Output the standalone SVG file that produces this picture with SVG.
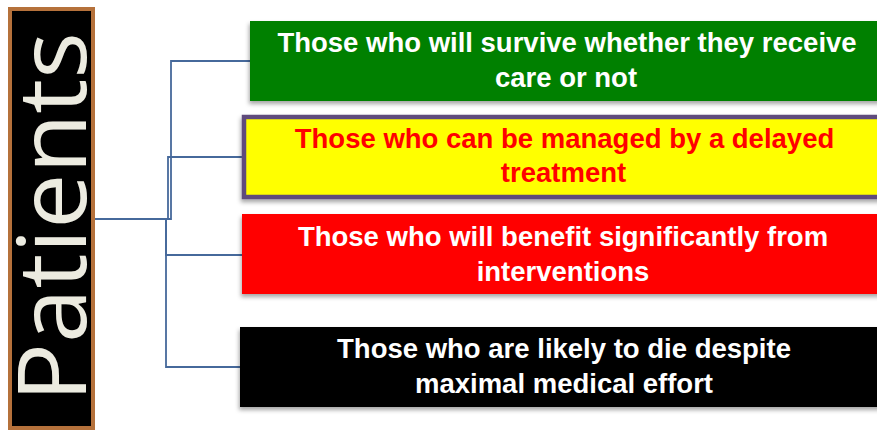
<svg xmlns="http://www.w3.org/2000/svg" width="877" height="430" viewBox="0 0 877 430">
  <defs>
    <filter id="shadow" x="-5%" y="-20%" width="110%" height="150%">
      <feDropShadow dx="-1" dy="3" stdDeviation="2" flood-color="#000" flood-opacity="0.35"/>
    </filter>
  </defs>
  <style>
    .conn { fill: none; stroke: #46699b; stroke-width: 1.8; }
    .lbl { font-family: "Liberation Sans", Arial, sans-serif; font-weight: bold; font-size: 27.5px; text-anchor: middle; }
    .white { fill: #ffffff; }
    .red { fill: #ff0000; }
  </style>

  <rect width="877" height="430" fill="#ffffff"/>

  <!-- connectors from the root to each category -->
  <g id="connectors">
    <path class="conn" d="M93,219 H171 V61 H250"/>
    <path class="conn" d="M93,219 H168 V157 H242"/>
    <path class="conn" d="M93,219 H166 V255 H242"/>
    <path class="conn" d="M166,219 V367 H240"/>
  </g>

  <!-- root node -->
  <g id="patients">
    <rect x="10" y="9" width="83" height="419" fill="#000000" stroke="#b5713b" stroke-width="4"/>
    <text transform="translate(86,402) rotate(-90)" x="0" y="0" textLength="370" lengthAdjust="spacingAndGlyphs"
          font-family="'Open Sans', 'DejaVu Sans', sans-serif" font-weight="500" font-size="95" fill="#ecebe0">Patients</text>
  </g>

  <!-- category nodes -->
  <g id="survive">
    <rect x="250" y="21" width="640" height="80" fill="#008000" filter="url(#shadow)"/>
    <text class="lbl white" x="567" y="52">Those who will survive whether they receive</text>
    <text class="lbl white" x="566" y="86.5">care or not</text>
  </g>

  <g id="delayed">
    <rect x="244" y="117" width="650" height="80" fill="#ffff00" stroke="#5e4b7c" stroke-width="4.5" filter="url(#shadow)"/>
    <text class="lbl red" x="564.5" y="147.5">Those who can be managed by a delayed</text>
    <text class="lbl red" x="563.5" y="182">treatment</text>
  </g>

  <g id="benefit">
    <rect x="242" y="214" width="650" height="80" fill="#ff0000" filter="url(#shadow)"/>
    <text class="lbl white" x="563" y="245.5">Those who will benefit significantly from</text>
    <text class="lbl white" x="563" y="281">interventions</text>
  </g>

  <g id="die">
    <rect x="240" y="327" width="650" height="80" fill="#000000" filter="url(#shadow)"/>
    <text class="lbl white" x="564" y="358">Those who are likely to die despite</text>
    <text class="lbl white" x="564" y="393">maximal medical effort</text>
  </g>
</svg>
